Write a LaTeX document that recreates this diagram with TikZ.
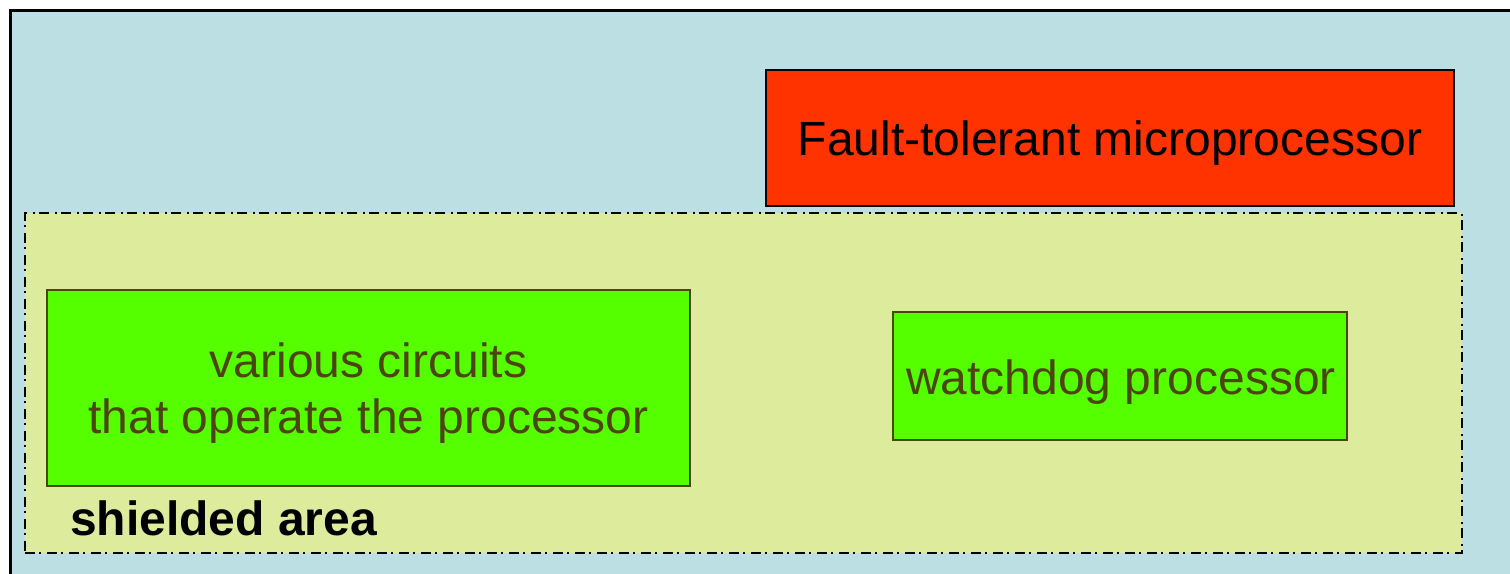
\documentclass[tikz,border=0pt]{standalone}
\usepackage{fontspec}
\setmainfont{Liberation Sans}
\definecolor{bgblue}{HTML}{BBDFE2}
\definecolor{shield}{HTML}{DDEB9C}
\definecolor{chipred}{HTML}{FF3300}
\definecolor{boxgreen}{HTML}{55FF00}
\definecolor{olive}{HTML}{4D4510}
\tikzset{
  big/.style={font=\fontsize{48}{56}\selectfont},
  redbox/.style={draw=black, line width=2.6pt, fill=chipred, inner sep=0pt},
  greenbox/.style={draw=olive, line width=2.2pt, fill=boxgreen, inner sep=0pt},
  txt/.style={inner sep=0pt, big, align=center},
  shieldbox/.style={draw=black, line width=2.4pt, fill=shield, inner sep=0pt, dash pattern=on 10pt off 4pt on 2pt off 6pt},
}
\begin{document}
\begin{tikzpicture}[x=1pt,y=-1pt]
\useasboundingbox (0,0) rectangle (1510,573);
\clip (0,0) rectangle (1510,573);
\fill[bgblue] (10,10) rectangle (1530,600);
\draw[line width=3pt] (1530,10) -- (10,10) -- (10,600);
\node[shieldbox, minimum width=1437pt, minimum height=340pt] (shield) at (743.5,383) {};
\node[redbox, minimum width=688pt, minimum height=136pt] (cpu) at (1110,138) {};
\node[txt, text=black] (cputxt) at (1110,143) {Fault-tolerant microprocessor};
\node[greenbox, minimum width=643pt, minimum height=196pt] (circ) at (368.5,388) {};
\node[txt, text=olive] (circtxt) at (368.5,393) {various circuits\\that operate the processor};
\node[greenbox, minimum width=454pt, minimum height=128pt] (wd) at (1120,376) {};
\node[txt, text=olive] (wdtxt) at (1121,382) {watchdog processor};
\node[anchor=base west, inner sep=0pt, font=\fontsize{48}{56}\selectfont\bfseries] (lbl) at (70,535) {shielded area};
\end{tikzpicture}
\end{document}
